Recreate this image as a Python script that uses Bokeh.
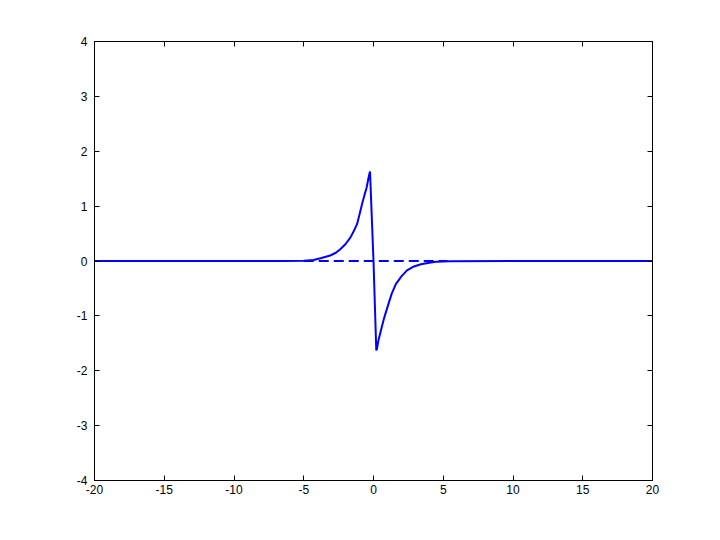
from bokeh.plotting import figure
from bokeh.models import Range1d, LinearAxis, FixedTicker
from bokeh.embed import file_html
from bokeh.resources import INLINE

# solid curve samples
curve_x = [-20, -10, -6.5, -5.0, -4.3, -3.8, -3.1, -2.7, -2.4, -2.0, -1.65, -1.4, -1.17,
           -1.0, -0.82, -0.65, -0.5, -0.33, -0.25, 0.0, 0.2, 0.25, 0.35, 0.5, 0.75, 1.0,
           1.3, 1.6, 2.0, 2.4, 2.9, 3.4, 4.0, 4.5, 5.5, 10, 20]
curve_y = [0.0, 0.0, 0.0, 0.005, 0.02, 0.05, 0.10, 0.15, 0.21, 0.31, 0.43, 0.55, 0.68,
           0.85, 1.04, 1.20, 1.33, 1.55, 1.63, 0.0, -1.63, -1.60, -1.45, -1.30, -1.05, -0.84,
           -0.60, -0.42, -0.28, -0.17, -0.10, -0.06, -0.03, -0.015, -0.003, 0.0, 0.0]

# dashed reference line
dash_x = [-5, 5.3]
dash_y = [0, 0]

x_ticks = [-20, -15, -10, -5, 0, 5, 10, 15, 20]
y_ticks = [-4, -3, -2, -1, 0, 1, 2, 3, 4]

p = figure(width=704, height=524, output_backend="svg", toolbar_location=None,
           x_range=Range1d(-20, 20), y_range=Range1d(-4, 4),
           min_border_left=94, min_border_right=52, min_border_top=41, min_border_bottom=44)
p.frame_width = 558
p.frame_height = 439
p.xgrid.visible = False
p.ygrid.visible = False
p.outline_line_color = "black"
p.outline_line_width = 1
p.background_fill_color = "white"
p.border_fill_color = "white"

p.line(curve_x, curve_y, line_color="#0000ff", line_width=2)
p.line(dash_x, dash_y, line_color="#0000ff", line_width=2, line_dash="10 5")

def style(ax, ticks, labels=True):
    ax.ticker = FixedTicker(ticks=ticks)
    ax.major_label_overrides = {t: str(t) for t in ticks}
    ax.major_tick_in = 5
    ax.major_tick_out = 0
    ax.minor_tick_line_color = None
    ax.axis_line_color = "black"
    ax.major_tick_line_color = "black"
    ax.major_label_text_font = "Liberation Sans"
    ax.major_label_text_font_size = "12px"
    ax.major_label_text_color = "black" if labels else None
    ax.major_label_standoff = 4

style(p.xaxis[0], x_ticks)
style(p.yaxis[0], y_ticks)
p.yaxis[0].major_label_standoff = 7

top = LinearAxis()
style(top, x_ticks, labels=False)
p.add_layout(top, "above")
right = LinearAxis()
style(right, y_ticks, labels=False)
p.add_layout(right, "right")

open("out.html", "w").write(file_html(p, INLINE))
